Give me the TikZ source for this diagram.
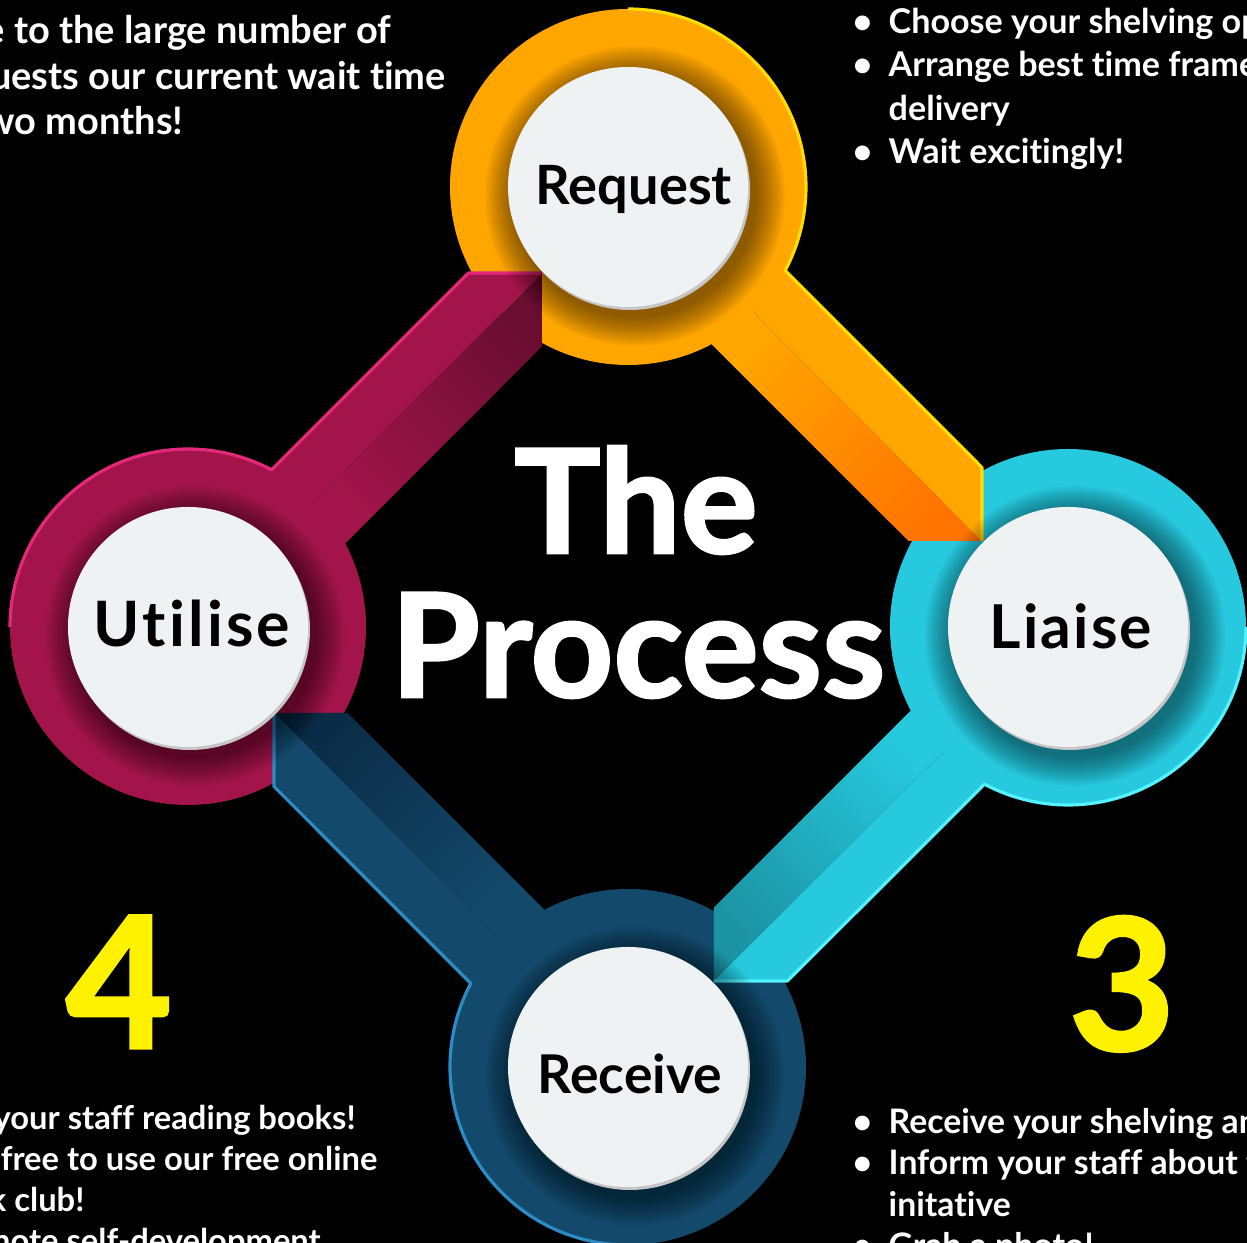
\documentclass[tikz,border=0pt]{standalone}
\usepackage{fontspec}
\setmainfont{Lato}[Ligatures=NoCommon, RawFeature={-liga;-calt}]
\newfontfamily\heavy{Lato}[BoldFeatures={FakeBold=1.8}]
\usepackage{tikz}
\usetikzlibrary{calc}

\definecolor{crim}{HTML}{A3154A}
\definecolor{crimside}{HTML}{6A0E31}
\definecolor{crimrim}{HTML}{E5287A}
\definecolor{orng}{HTML}{FFA600}
\definecolor{orngside}{HTML}{FF7400}
\definecolor{orngrim}{HTML}{FFDD00}
\definecolor{cyn}{HTML}{27C9DF}
\definecolor{cynside}{HTML}{1C93A3}
\definecolor{cynrim}{HTML}{55F2FF}
\definecolor{navy}{HTML}{134A6C}
\definecolor{navyside}{HTML}{0B2C47}
\definecolor{navyrim}{HTML}{2C8CC6}
\definecolor{paper}{HTML}{EFF2F3}
\definecolor{numyellow}{HTML}{FFF200}

\tikzset{
  lbl/.style 2 args={font=\fontsize{#1}{20}\selectfont\bfseries\addfontfeature{LetterSpace=#2}, text=black, anchor=base, inner sep=0},
  title/.style={font=\fontsize{41}{46}\selectfont\heavy\bfseries, text=white, anchor=base, inner sep=0},
  bignum/.style={font=\fontsize{52}{56}\selectfont\heavy\bfseries, text=numyellow, anchor=base, inner sep=0},
  notes/.style={font=\fontsize{9.6}{11.8}\selectfont\bfseries, text=white, align=left, anchor=base west, inner sep=0}
}
\newcommand{\bul}{\makebox[0.36cm][l]{\textbullet}}
\newcommand{\cont}{\hspace*{0.36cm}}

\begin{document}
\begin{tikzpicture}[x=0.01cm, y=0.01cm]
\useasboundingbox (-628,-616) rectangle (619,627);
\clip (-628,-616) rectangle (619,627);
\fill[black] (-628,-616) rectangle (619,627);

% the four rings
\foreach \n/\a/\c in {utl/180/crim, req/90/orng, lia/0/cyn, rec/270/navy} {
  \coordinate (\n) at (\a:440);
  \fill[\c] (\n) circle (178);
}

% arms, one per ring, turned a quarter each
\foreach \k/\c/\s/\r [evaluate=\k as \ang using -45-90*\k] in {0/crim/crimside/crimrim, 1/orng/orngside/orngrim, 2/cyn/cynside/cynrim, 3/navy/navyside/navyrim} {
  \begin{scope}[rotate=-90*\k]
    \shade[bottom color=\c, top color=\s, shading angle=\ang] (-316,124) -- (-86,354) -- (-86,280.5) -- (-282.8,83.6) -- cycle;
    \fill[\c] (-356.4,157.2) -- (-159.5,354) -- (-86,354) -- (-314,126) -- cycle;
    \draw[\r, line width=.9pt, line join=round] (-618,0) arc[start angle=180, end angle=62, radius=178] -- (-159.5,354) -- (-86,354);
  \end{scope}
}

% buttons
\foreach \n in {req, lia, rec, utl} {
  \foreach \r in {150,148,...,122}
    \fill[black, opacity=.035] ($(\n)+(7,-9)$) circle (\r);
  \fill[gray!45] ($(\n)+(2,-3)$) circle (120);
  \fill[paper] (\n) circle (120);
}
\node[lbl={15.4}{0}] (reqlbl) at ($(req)+(6,-18)$) {Request};
\node[lbl={17.2}{3.5}] (lialbl) at ($(lia)+(3,-22)$) {Liaise};
\node[lbl={15.2}{0}] (reclbl) at ($(rec)+(2,-27)$) {Receive};
\node[lbl={17.8}{5}] (utllbl) at ($(utl)+(4,-20)$) {Utilise};

% title
\node[title] (the) at (8,74) {The};
\node[title] (proc) at (10,-70) {Process};

% step numbers
\node[bignum] (four) at (-509,-421) {4};
\node[bignum] (three) at (494,-423) {3};

% notes
\node[notes, font=\fontsize{10.8}{13}\selectfont\bfseries] (reqnote) at (-694,492) {Due to the large number of\\requests our current wait time\\is two months!};
\node[notes, font=\fontsize{9.7}{12.4}\selectfont\bfseries] (lianote) at (224,463) {\bul Choose your shelving options\\\bul Arrange best time frame for\\\cont delivery\\\bul Wait excitingly!};
\node[notes] (recnote) at (224,-631) {\bul Receive your shelving and\\\bul Inform your staff about the\\\cont initative\\\bul Grab a photo!};
\node[notes, font=\fontsize{9.3}{11.7}\selectfont\bfseries] (utlnote) at (-732,-626) {\bul Get your staff reading books!\\\bul Feel free to use our free online\\\cont book club!\\\bul Promote self-development};
\end{tikzpicture}
\end{document}
